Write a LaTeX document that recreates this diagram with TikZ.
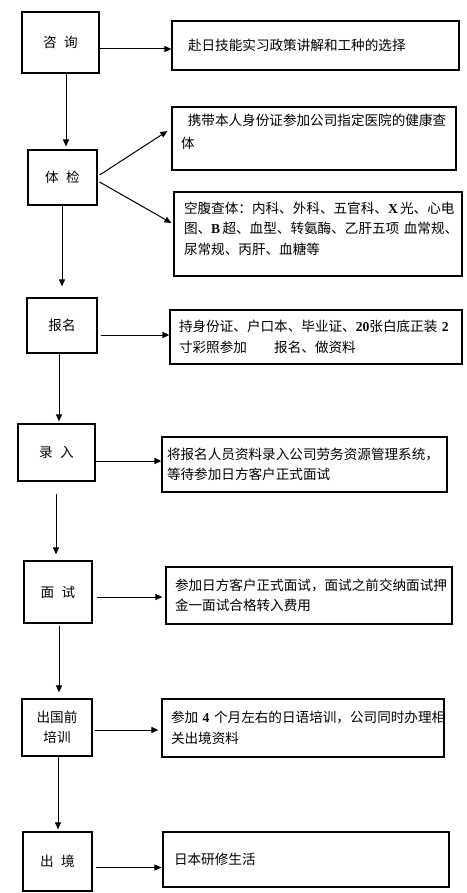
\documentclass[tikz,border=0pt]{standalone}
\usepackage{fontspec}
\setmainfont{Noto Sans CJK SC}
\newfontfamily\latn{Liberation Serif}
\usetikzlibrary{arrows.meta}
\newcommand{\mylat}[1]{{\latn\bfseries #1}}
\begin{document}
\begin{tikzpicture}[x=1pt,y=-1pt,
  every node/.style={font=\fontsize{13.6}{20.5}\selectfont},
  lbox/.style={draw, line width=1.2pt, align=center, inner sep=0pt},
  rbox/.style={draw, line width=1.2pt, align=left, inner ysep=0pt},
  arr/.style={line width=1pt, -{Triangle[length=7pt,width=6pt]}}]

\useasboundingbox[fill=white] (0,0) rectangle (466,893);

% left column
\node[lbox, minimum width=77pt, minimum height=61pt] (A) at (60.5,42.5) {咨\hspace{0.55em}询};
\node[lbox, minimum width=69pt, minimum height=55pt] (B) at (62.5,177.5) {体\hspace{0.55em}检};
\node[lbox, minimum width=70pt, minimum height=55pt] (C) at (62,325.5) {报名};
\node[lbox, minimum width=77pt, minimum height=57pt] (D) at (56.5,452.5) {录\hspace{0.55em}入};
\node[lbox, minimum width=68pt, minimum height=62pt] (E) at (58,592) {面\hspace{0.55em}试};
\node[lbox, minimum width=70pt, minimum height=57pt] (F) at (57,727.5) {出国前\\培训};
\node[lbox, minimum width=69pt, minimum height=59pt] (G) at (57.5,861.5) {出\hspace{0.55em}境};

% right column
\node[rbox, text width=255pt, inner xsep=16pt, minimum height=49pt] (R1) at (315.5,45.5)
  {赴日技能实习政策讲解和工种的选择};
\node[rbox, text width=266pt, inner xsep=9pt, minimum height=63pt] (R2) at (314,138.5)
  {\hspace{0.5em}携带本人身份证参加公司指定医院的健康查\\[2.5pt]体\\[-6.5pt]\mbox{}};
\node[rbox, text width=268pt, inner xsep=10pt, minimum height=84pt] (R3) at (318,234)
  {空腹查体：内科、外科、五官科、\mylat{X}\,光、心电\\图、\mylat{B}\,超、血型、转氨酶、乙肝五项~血常规、\\尿常规、丙肝、血糖等\\[-8.5pt]\mbox{}};
\node[rbox, text width=274pt, inner xsep=9pt, minimum height=54pt] (R4) at (316,337)
  {持身份证、户口本、毕业证、\mylat{20}张白底正装~\mylat{2}\\寸彩照参加\hspace{2em}报名、做资料};
\node[rbox, text width=275pt, inner xsep=5pt, minimum height=55pt] (R5) at (304.5,464.5)
  {将报名人员资料录入公司劳务资源管理系统，\\等待参加日方客户正式面试};
\node[rbox, text width=268pt, inner xsep=9pt, minimum height=57pt] (R6) at (309,595.5)
  {参加日方客户正式面试，面试之前交纳面试押\\金一面试合格转入费用};
\node[rbox, text width=264pt, inner xsep=9pt, minimum height=58pt] (R7) at (303,728)
  {参加~\mylat{4}~个月左右的日语培训，公司同时办理相\\关出境资料};
\node[rbox, text width=264pt, inner xsep=11pt, minimum height=55pt] (R8) at (306,859.5)
  {日本研修生活};

% horizontal connectors
\coordinate (a1) at ([yshift=-6.5pt]A.east);
\draw[arr] (a1) -- (a1 -| R1.west);
\coordinate (c1) at ([yshift=-9.5pt]C.east);
\draw[arr, shorten <=3pt] (c1) -- (c1 -| R4.west);
\coordinate (d1) at ([yshift=-8.5pt]D.east);
\draw[arr] (d1) -- (d1 -| R5.west);
\coordinate (e1) at ([yshift=-5pt]E.east);
\draw[arr, shorten <=4pt, shorten >=3pt] (e1) -- (e1 -| R6.west);
\coordinate (f1) at ([yshift=-2.5pt]F.east);
\draw[arr, shorten <=2pt, shorten >=3pt] (f1) -- (f1 -| R7.west);
\coordinate (g1) at ([yshift=-6pt]G.east);
\draw[arr, shorten <=3pt, shorten >=1pt] (g1) -- (g1 -| R8.west);

% diagonal connectors
\draw[arr] ([xshift=2pt,yshift=2.5pt]B.east) -- ([xshift=-4pt,yshift=7.5pt]R2.west);
\draw[arr] ([xshift=2pt,yshift=-4.5pt]B.east) -- ([xshift=-2pt,yshift=11pt]R3.west);

% vertical connectors
\coordinate (ab) at ([xshift=5.5pt]A.south);
\draw[arr, shorten >=3pt] (ab) -- (ab |- B.north);
\coordinate (bc) at ([xshift=-0.5pt]B.south);
\draw[arr, shorten >=11pt] (bc) -- (bc |- C.north);
\coordinate (cd) at ([xshift=-3pt]C.south);
\draw[arr, shorten >=2pt] (cd) -- (cd |- D.north);
\coordinate (de) at ([xshift=-0.5pt]D.south);
\draw[arr, shorten <=12pt, shorten >=6pt] (de) -- (de |- E.north);
\coordinate (ef) at ([xshift=1pt]E.south);
\draw[arr, shorten <=2pt, shorten >=6pt] (ef) -- (ef |- F.north);
\coordinate (fg) at ([xshift=1pt]F.south);
\draw[arr, shorten >=2pt] (fg) -- (fg |- G.north);
\end{tikzpicture}
\end{document}
